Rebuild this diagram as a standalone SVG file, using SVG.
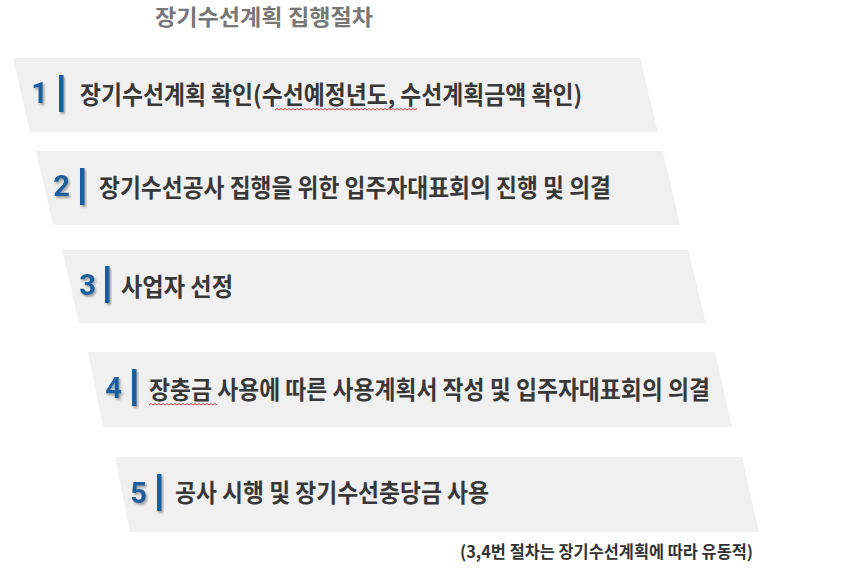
<svg xmlns="http://www.w3.org/2000/svg" width="843" height="584" viewBox="0 0 843 584">
<defs>
<filter id="sh" x="-50%" y="-50%" width="200%" height="200%">
<feDropShadow dx="1.5" dy="2" stdDeviation="1.2" flood-color="#000" flood-opacity="0.35"/>
</filter>
<style>
.band{fill:#f0f0f0;}
.num{font-family:"Roboto","Liberation Sans",sans-serif;font-weight:700;font-size:29px;fill:#1f5f9c;text-anchor:end;}
.bar{fill:#1f5f9c;}
.txt{font-family:"Noto Sans CJK KR","Noto Sans",sans-serif;font-weight:700;font-size:24.5px;fill:#383838;}
.title{font-family:"Noto Sans CJK KR","Noto Sans",sans-serif;font-weight:700;font-size:22px;fill:#777;}
.note{font-family:"Noto Sans CJK KR","Noto Sans",sans-serif;font-weight:700;font-size:17px;fill:#333;}
.sq{fill:none;stroke:#d33;stroke-width:0.9;}
</style>
</defs>
<rect width="843" height="584" fill="#fff"/>
<text class="title" x="155" y="25" textLength="218" lengthAdjust="spacingAndGlyphs">장기수선계획 집행절차</text>
<g id="step1">
<polygon class="band" points="13,58 640,58 658,132 30,132"/>
<text class="num" x="48" y="103" filter="url(#sh)">1</text>
<rect class="bar" x="59" y="75" width="4.5" height="37" filter="url(#sh)"/>
<text class="txt" x="80" y="104" textLength="502" lengthAdjust="spacingAndGlyphs">장기수선계획 확인(수선예정년도, 수선계획금액 확인)</text>
</g>
<g id="step2">
<polygon class="band" points="36,151 663,151 680,225 53,225"/>
<text class="num" x="70" y="196" filter="url(#sh)">2</text>
<rect class="bar" x="80" y="168" width="4.5" height="37" filter="url(#sh)"/>
<text class="txt" x="99" y="197" textLength="512" lengthAdjust="spacingAndGlyphs">장기수선공사 집행을 위한 입주자대표회의 진행 및 의결</text>
</g>
<g id="step3">
<polygon class="band" points="62,250 688,250 706,323 79,323"/>
<text class="num" x="96" y="295" filter="url(#sh)">3</text>
<rect class="bar" x="105" y="266" width="4.5" height="37" filter="url(#sh)"/>
<text class="txt" x="121" y="296" textLength="112" lengthAdjust="spacingAndGlyphs">사업자 선정</text>
</g>
<g id="step4">
<polygon class="band" points="88,352 715,352 732,427 103,427"/>
<text class="num" x="122" y="398" filter="url(#sh)">4</text>
<rect class="bar" x="132" y="369" width="4.5" height="37" filter="url(#sh)"/>
<text class="txt" x="149" y="399" textLength="561" lengthAdjust="spacingAndGlyphs">장충금 사용에 따른 사용계획서 작성 및 입주자대표회의 의결</text>
</g>
<g id="step5">
<polygon class="band" points="115,457 742,457 759,532 130,532"/>
<text class="num" x="147" y="503" filter="url(#sh)">5</text>
<rect class="bar" x="157" y="474" width="4.5" height="37" filter="url(#sh)"/>
<text class="txt" x="175" y="502" textLength="314" lengthAdjust="spacingAndGlyphs">공사 시행 및 장기수선충당금 사용</text>
</g>
<path class="sq" d="M275,110 l2,-1.5 l2,1.5 l2,-1.5 l2,1.5 l2,-1.5 l2,1.5 l2,-1.5 l2,1.5 l2,-1.5 l2,1.5 l2,-1.5 l2,1.5 l2,-1.5 l2,1.5 l2,-1.5 l2,1.5 l2,-1.5 l2,1.5 l2,-1.5 l2,1.5 l2,-1.5 l2,1.5 l2,-1.5 l2,1.5 l2,-1.5 l2,1.5 l2,-1.5 l2,1.5 l2,-1.5 l2,1.5 l2,-1.5 l2,1.5 l2,-1.5 l2,1.5 l2,-1.5 l2,1.5 l2,-1.5 l2,1.5 l2,-1.5 l2,1.5 l2,-1.5 l2,1.5 l2,-1.5 l2,1.5 l2,-1.5 l2,1.5 l2,-1.5 l2,1.5 l2,-1.5 l2,1.5 l2,-1.5 l2,1.5 l2,-1.5 l2,1.5 l2,-1.5 l2,1.5 l2,-1.5 l2,1.5 l2,-1.5 l2,1.5 l2,-1.5 l2,1.5 l2,-1.5 l2,1.5 l2,-1.5 l2,1.5 l2,-1.5 l2,1.5 l2,-1.5 l2,1.5 l2,-1.5"/>
<path class="sq" d="M149,405 l2,-1.5 l2,1.5 l2,-1.5 l2,1.5 l2,-1.5 l2,1.5 l2,-1.5 l2,1.5 l2,-1.5 l2,1.5 l2,-1.5 l2,1.5 l2,-1.5 l2,1.5 l2,-1.5 l2,1.5 l2,-1.5 l2,1.5 l2,-1.5 l2,1.5 l2,-1.5 l2,1.5 l2,-1.5 l2,1.5 l2,-1.5 l2,1.5 l2,-1.5 l2,1.5 l2,-1.5 l2,1.5 l2,-1.5 l2,1.5 l2,-1.5 l2,1.5"/>
<text class="note" x="460" y="558" textLength="293" lengthAdjust="spacingAndGlyphs">(3,4번 절차는 장기수선계획에 따라 유동적)</text>
</svg>
